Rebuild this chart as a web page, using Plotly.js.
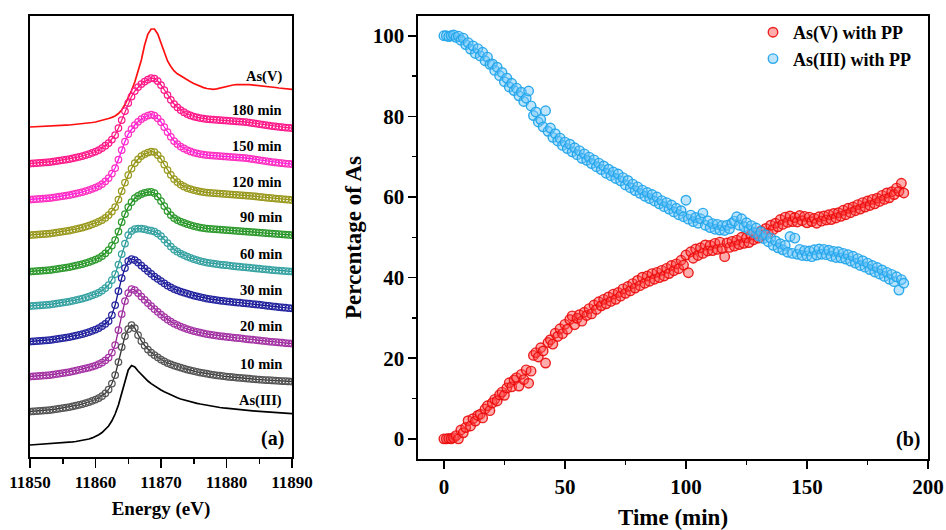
<!DOCTYPE html>
<html>
<head>
<meta charset="utf-8">
<script src="https://cdn.plot.ly/plotly-3.0.1.min.js"></script>
<style>html,body{margin:0;padding:0;background:#fff;}#chart{width:946px;height:530px;}</style>
</head>
<body>
<div id="chart"></div>
<script>
// ---------- Panel (a): XANES spectra (stacked, arbitrary units) ----------
const energy = [11850,11850.5,11851,11851.5,11852,11852.5,11853,11853.5,11854,11854.5,11855,11855.5,11856,11856.5,11857,11857.5,11858,11858.5,11859,11859.5,11860,11860.5,11861,11861.5,11862,11862.5,11863,11863.5,11864,11864.5,11865,11865.5,11866,11866.5,11867,11867.5,11868,11868.5,11869,11869.5,11870,11870.5,11871,11871.5,11872,11872.5,11873,11873.5,11874,11874.5,11875,11875.5,11876,11876.5,11877,11877.5,11878,11878.5,11879,11879.5,11880,11880.5,11881,11881.5,11882,11882.5,11883,11883.5,11884,11884.5,11885,11885.5,11886,11886.5,11887,11887.5,11888,11888.5,11889,11889.5,11890];

const specAsV = [3.300,3.301,3.302,3.304,3.305,3.307,3.308,3.309,3.310,3.313,3.315,3.318,3.320,3.323,3.325,3.328,3.330,3.335,3.340,3.345,3.350,3.357,3.365,3.374,3.385,3.396,3.410,3.435,3.470,3.525,3.590,3.665,3.750,3.855,3.970,4.120,4.230,4.280,4.280,4.230,4.140,4.045,3.960,3.905,3.860,3.832,3.810,3.790,3.770,3.752,3.735,3.720,3.705,3.694,3.685,3.680,3.677,3.682,3.690,3.700,3.710,3.715,3.720,3.723,3.725,3.725,3.725,3.723,3.720,3.718,3.715,3.713,3.710,3.705,3.700,3.695,3.690,3.686,3.683,3.680,3.677];
const spec180 = [2.935,2.937,2.940,2.942,2.945,2.947,2.950,2.955,2.960,2.965,2.970,2.975,2.980,2.987,2.995,3.002,3.010,3.020,3.030,3.042,3.055,3.070,3.090,3.113,3.140,3.175,3.220,3.290,3.370,3.460,3.540,3.605,3.660,3.700,3.730,3.755,3.775,3.790,3.785,3.760,3.720,3.670,3.620,3.572,3.530,3.497,3.470,3.448,3.430,3.416,3.405,3.397,3.390,3.385,3.380,3.377,3.375,3.372,3.370,3.367,3.365,3.362,3.360,3.357,3.355,3.352,3.350,3.345,3.340,3.335,3.330,3.325,3.320,3.315,3.310,3.306,3.302,3.298,3.295,3.292,3.290];
const spec150 = [2.575,2.577,2.580,2.582,2.585,2.587,2.590,2.595,2.600,2.605,2.610,2.615,2.620,2.627,2.635,2.642,2.650,2.660,2.670,2.682,2.695,2.710,2.730,2.757,2.790,2.835,2.890,2.975,3.070,3.155,3.230,3.280,3.320,3.352,3.380,3.400,3.415,3.425,3.415,3.387,3.350,3.300,3.250,3.202,3.160,3.130,3.105,3.086,3.070,3.056,3.045,3.037,3.030,3.025,3.020,3.017,3.015,3.012,3.010,3.007,3.005,3.002,3.000,2.997,2.995,2.992,2.990,2.985,2.980,2.975,2.970,2.965,2.960,2.955,2.950,2.946,2.942,2.938,2.935,2.932,2.930];
const spec120 = [2.220,2.222,2.225,2.227,2.230,2.232,2.235,2.240,2.245,2.250,2.255,2.260,2.265,2.272,2.280,2.287,2.295,2.305,2.315,2.327,2.340,2.355,2.370,2.392,2.420,2.455,2.500,2.575,2.660,2.745,2.820,2.885,2.940,2.977,3.010,3.030,3.045,3.055,3.050,3.020,2.980,2.925,2.870,2.822,2.780,2.750,2.725,2.706,2.690,2.680,2.670,2.662,2.655,2.650,2.645,2.642,2.640,2.637,2.635,2.632,2.630,2.627,2.625,2.622,2.620,2.617,2.615,2.612,2.610,2.606,2.602,2.598,2.595,2.591,2.588,2.585,2.582,2.579,2.576,2.573,2.570];
const spec90 = [1.855,1.857,1.860,1.862,1.865,1.867,1.870,1.875,1.880,1.885,1.890,1.895,1.900,1.907,1.915,1.922,1.930,1.940,1.950,1.962,1.975,1.990,2.010,2.037,2.070,2.115,2.170,2.255,2.350,2.430,2.500,2.550,2.590,2.612,2.630,2.642,2.650,2.652,2.640,2.605,2.560,2.510,2.460,2.420,2.390,2.370,2.355,2.342,2.330,2.320,2.310,2.302,2.295,2.290,2.285,2.282,2.280,2.277,2.275,2.272,2.270,2.267,2.265,2.262,2.260,2.257,2.255,2.252,2.250,2.247,2.245,2.242,2.240,2.237,2.235,2.232,2.230,2.227,2.225,2.222,2.220];
const spec60 = [1.510,1.512,1.515,1.517,1.520,1.522,1.525,1.530,1.535,1.540,1.545,1.550,1.555,1.562,1.570,1.577,1.585,1.595,1.605,1.617,1.630,1.645,1.665,1.690,1.720,1.770,1.830,1.925,2.030,2.135,2.220,2.260,2.280,2.285,2.285,2.278,2.270,2.263,2.255,2.235,2.210,2.175,2.140,2.105,2.075,2.053,2.035,2.020,2.005,1.992,1.980,1.970,1.960,1.952,1.945,1.940,1.935,1.930,1.925,1.921,1.918,1.914,1.910,1.906,1.903,1.900,1.897,1.893,1.890,1.886,1.883,1.880,1.877,1.873,1.870,1.867,1.865,1.862,1.860,1.857,1.855];
const spec30 = [1.155,1.157,1.160,1.162,1.165,1.167,1.170,1.175,1.180,1.185,1.190,1.195,1.200,1.207,1.215,1.222,1.230,1.240,1.250,1.262,1.275,1.290,1.310,1.332,1.360,1.420,1.520,1.660,1.790,1.890,1.960,1.980,1.970,1.945,1.915,1.887,1.860,1.832,1.805,1.782,1.760,1.737,1.715,1.697,1.680,1.667,1.655,1.645,1.635,1.625,1.615,1.607,1.600,1.592,1.585,1.580,1.575,1.570,1.565,1.561,1.557,1.553,1.550,1.546,1.543,1.540,1.537,1.533,1.530,1.526,1.523,1.519,1.515,1.511,1.507,1.503,1.500,1.496,1.493,1.490,1.487];
const spec20 = [0.805,0.807,0.810,0.812,0.815,0.817,0.820,0.825,0.830,0.835,0.840,0.845,0.850,0.857,0.865,0.872,0.880,0.887,0.895,0.905,0.915,0.928,0.945,0.967,0.995,1.045,1.120,1.270,1.430,1.560,1.640,1.680,1.670,1.640,1.605,1.572,1.540,1.510,1.480,1.452,1.425,1.400,1.375,1.354,1.335,1.320,1.305,1.292,1.280,1.270,1.260,1.252,1.245,1.237,1.230,1.225,1.220,1.215,1.210,1.206,1.202,1.198,1.195,1.191,1.188,1.184,1.180,1.176,1.173,1.170,1.166,1.162,1.159,1.155,1.152,1.149,1.146,1.143,1.140,1.137,1.135];
const spec10 = [0.455,0.457,0.460,0.462,0.465,0.467,0.470,0.475,0.480,0.485,0.490,0.495,0.500,0.507,0.515,0.522,0.530,0.540,0.550,0.562,0.575,0.590,0.610,0.637,0.675,0.735,0.820,0.950,1.100,1.210,1.280,1.320,1.290,1.220,1.160,1.115,1.075,1.045,1.020,0.997,0.975,0.957,0.940,0.927,0.915,0.905,0.895,0.885,0.875,0.867,0.860,0.852,0.845,0.839,0.833,0.827,0.822,0.817,0.813,0.809,0.805,0.801,0.798,0.795,0.792,0.789,0.786,0.783,0.780,0.777,0.775,0.772,0.770,0.768,0.766,0.764,0.762,0.760,0.758,0.756,0.755];
const specAsIII = [0.120,0.122,0.123,0.125,0.127,0.128,0.130,0.132,0.135,0.137,0.140,0.143,0.147,0.151,0.155,0.160,0.165,0.172,0.180,0.191,0.205,0.223,0.245,0.273,0.310,0.362,0.430,0.520,0.630,0.750,0.870,0.915,0.900,0.860,0.825,0.790,0.760,0.734,0.710,0.689,0.670,0.652,0.635,0.620,0.605,0.592,0.580,0.570,0.560,0.552,0.545,0.537,0.530,0.523,0.517,0.511,0.505,0.500,0.495,0.491,0.487,0.483,0.480,0.476,0.473,0.470,0.467,0.464,0.462,0.459,0.457,0.454,0.452,0.449,0.447,0.444,0.442,0.440,0.438,0.435,0.433];

const specLabels = ['As(V)','180 min','150 min','120 min','90 min','60 min','30 min','20 min','10 min','As(III)'];

// ---------- Panel (b): percentage of As vs time ----------
const timeMin = [0,1,2,3,4,5,6,7,8,9,10,11,12,13,14,15,16,17,18,19,20,21,22,23,24,25,26,27,28,29,30,31,32,33,34,35,36,37,38,39,40,41,42,43,44,45,46,47,48,49,50,51,52,53,54,55,56,57,58,59,60,61,62,63,64,65,66,67,68,69,70,71,72,73,74,75,76,77,78,79,80,81,82,83,84,85,86,87,88,89,90,91,92,93,94,95,96,97,98,99,100,101,102,103,104,105,106,107,108,109,110,111,112,113,114,115,116,117,118,119,120,121,122,123,124,125,126,127,128,129,130,131,132,133,134,135,136,137,138,139,140,141,142,143,144,145,146,147,148,149,150,151,152,153,154,155,156,157,158,159,160,161,162,163,164,165,166,167,168,169,170,171,172,173,174,175,176,177,178,179,180,181,182,183,184,185,186,187,188,189,190];

const pctAsV = [0,0,0.1,0,0.3,0.8,0,2.2,1.5,2.8,
4.5,3.2,5.0,4.4,5.8,6.1,5.2,7.4,8.2,7.0,
8.9,9.8,9.4,10.9,11.6,10.8,12.6,13.9,12.9,14.6,
15.2,13.1,16.0,14.7,17.1,13.8,16.8,20.7,21.4,20.3,
22.6,21.8,18.8,23.9,24.6,23.5,26.2,25.4,27.3,26.1,
28.4,27.2,29.6,30.5,28.3,29.9,30.8,29.2,31.4,30.6,
32.3,31.0,33.2,32.1,34.0,33.0,34.6,33.5,35.2,34.1,
35.9,34.6,36.3,35.4,37.2,36.1,37.8,36.7,38.5,37.4,
39.3,38.0,40.1,38.6,40.4,39.1,41.0,39.6,41.3,40.0,
41.8,40.4,42.3,41.0,43.0,41.7,43.4,42.2,44.3,43.1,
45.6,41.2,46.4,44.8,47.1,45.5,47.4,46.0,48.1,46.6,
48.0,46.7,48.5,47.0,48.8,47.2,45.2,48.6,47.5,49.0,
47.8,49.3,48.2,50.0,48.5,49.9,48.7,50.6,49.4,51.0,
49.8,51.6,50.5,52.2,51.0,53.0,51.9,53.5,52.6,54.4,
53.2,55.0,53.7,55.3,53.9,54.9,53.8,55.4,54.1,55.2,
53.6,55.0,53.9,54.7,53.5,55.1,54.0,55.3,54.3,55.6,
54.4,55.9,54.8,56.1,55.2,56.7,55.6,57.2,56.1,57.5,
56.6,58.1,57.0,58.6,57.5,59.0,57.9,59.4,58.3,59.7,
58.9,60.4,59.4,61.0,59.8,61.3,60.6,62.2,61.4,63.4,
61.0];

const pctAsIII = [100,100,99.8,100,100.2,99.6,99.9,98.9,99.4,97.8,
98.3,96.7,97.5,95.6,96.8,95.0,95.9,93.8,94.7,92.9,
93.0,91.4,92.2,90.1,90.9,88.6,89.5,87.3,88.2,86.4,
87.0,85.1,86.0,83.7,84.5,86.3,82.6,80.2,81.1,78.6,
79.2,77.4,81.4,76.3,77.1,74.8,75.7,73.9,74.6,72.8,
73.6,72.0,73.1,71.2,72.2,70.5,71.5,69.6,70.7,69.1,
69.9,68.3,69.2,67.5,68.4,66.8,67.7,65.9,66.9,65.3,
66.2,64.6,65.7,64.0,64.8,63.0,64.1,62.3,63.2,61.6,
62.5,60.9,61.7,60.2,61.1,59.6,60.6,59.0,60.0,58.3,
59.1,57.6,58.6,57.0,58.0,56.3,57.2,55.6,56.6,55.1,
59.2,54.5,55.5,53.9,54.9,53.5,54.6,56.0,53.0,54.1,
52.4,53.4,52.0,53.2,51.8,52.9,51.7,53.0,52.1,53.5,
54.0,55.1,53.0,54.6,52.6,53.6,51.9,52.9,51.2,52.3,
50.4,51.3,49.7,50.6,48.9,49.8,48.0,49.1,47.4,48.4,
46.9,48.0,46.3,50.2,46.0,49.8,45.8,47.0,45.5,46.7,
45.4,46.6,45.2,46.9,45.6,47.1,45.8,47.0,45.7,46.8,
45.3,46.5,45.0,46.4,44.9,46.0,44.6,45.7,44.1,45.3,
43.6,44.7,43.0,44.2,42.6,43.6,42.0,43.0,41.4,42.5,
40.9,41.9,40.3,41.3,39.6,40.8,39.0,40.2,36.9,39.5,
38.6];

const seriesNames = ['As(V) with PP','As(III) with PP'];

// ---------- build figure ----------
const FONT = 'Liberation Serif';
const W = 946, H = 530;
const px = v => v / W;            // paper x from pixel
const py = v => 1 - v / H;        // paper y from pixel

const specSeries = [specAsV, spec180, spec150, spec120, spec90, spec60, spec30, spec20, spec10, specAsIII];
const specStyle = [
  {line:'#ff1010', marker:null},
  {line:'#ff1f7a', marker:'#ff1a8c'},
  {line:'#ff10ff', marker:'#ff30c0'},
  {line:'#8f8f10', marker:'#9a9a20'},
  {line:'#1f8f1f', marker:'#2e9a2e'},
  {line:'#2a9595', marker:'#38a3a3'},
  {line:'#14148f', marker:'#2525a0'},
  {line:'#952595', marker:'#a535a5'},
  {line:'#333333', marker:'#555555'},
  {line:'#000000', marker:null}
];

const traces = [];
specSeries.forEach((s, i) => {
  const st = specStyle[i];
  const t = {
    x: energy, y: s, xaxis:'x', yaxis:'y', showlegend:false, name: specLabels[i],
    type:'scatter', hoverinfo:'skip',
    mode: st.marker ? 'lines+markers' : 'lines',
    line: {color: st.line, width: st.marker ? 1.3 : 1.7}
  };
  if (st.marker) {
    t.marker = {symbol:'circle-open', size:6.5, color: st.marker, line:{color: st.marker, width:1.25}};
  }
  traces.push(t);
});

traces.push({
  x: timeMin, y: pctAsV, xaxis:'x2', yaxis:'y2', type:'scatter', mode:'markers',
  name: seriesNames[0],
  marker:{symbol:'circle', size:9.5, color:'rgba(255,70,70,0.45)', line:{color:'rgba(235,10,10,0.9)', width:1.4}}
});
traces.push({
  x: timeMin, y: pctAsIII, xaxis:'x2', yaxis:'y2', type:'scatter', mode:'markers',
  name: seriesNames[1],
  marker:{symbol:'circle', size:9.5, color:'rgba(110,198,250,0.45)', line:{color:'rgba(35,165,235,0.95)', width:1.4}}
});

const annotations = specSeries.map((s, i) => ({
  xref:'x', yref:'y', x: energy[energy.length-1], y: s[s.length-1],
  xanchor:'right', yanchor:'middle', xshift:-8,
  yshift: specStyle[i].marker ? 18 : 13,
  showarrow:false, text: specLabels[i],
  font:{family:FONT, size:14.5, color:'#000', weight:'bold'}
}));
annotations.push({xref:'paper', yref:'paper', x:px(272), y:py(438), xanchor:'center', yanchor:'middle',
  showarrow:false, text:'(a)', font:{family:FONT, size:20, color:'#000', weight:'bold'}});
annotations.push({xref:'paper', yref:'paper', x:px(908), y:py(439), xanchor:'center', yanchor:'middle',
  showarrow:false, text:'(b)', font:{family:FONT, size:20, color:'#000', weight:'bold'}});

const axBase = {
  showline:true, mirror:true, linecolor:'#000', linewidth:1.6,
  showgrid:false, zeroline:false, automargin:false,
  ticks:'outside', tickcolor:'#000', tickwidth:1.5
};

const layout = {
  width: W, height: H,
  margin:{l:0, r:0, t:0, b:0},
  paper_bgcolor:'#fff', plot_bgcolor:'#fff',
  font:{family:FONT, color:'#000', weight:'bold'},
  showlegend:true,
  legend:{x:px(753), y:py(14), xanchor:'left', yanchor:'top', bgcolor:'rgba(0,0,0,0)',
    font:{family:FONT, size:18, color:'#000', weight:'bold'}, tracegroupgap:0},
  xaxis: Object.assign({}, axBase, {
    domain:[px(30), px(292)], range:[11850, 11890], anchor:'y',
    tick0:11850, dtick:10, ticklen:9, tickformat:'d',
    minor:{dtick:5, ticklen:5, ticks:'outside', tickcolor:'#000', tickwidth:1.5},
    tickfont:{family:FONT, size:17, color:'#000', weight:'bold'},
    title:{text:'Energy (eV)', standoff:10, font:{family:FONT, size:19, color:'#000', weight:'bold'}}
  }),
  yaxis: Object.assign({}, axBase, {
    domain:[py(457), py(16)], range:[0, 4.41], anchor:'x',
    ticks:'', showticklabels:false
  }),
  xaxis2: Object.assign({}, axBase, {
    domain:[px(418), px(928)], range:[-10.7, 200], anchor:'y2',
    tick0:0, dtick:50, ticklen:8,
    minor:{dtick:25, ticklen:4, ticks:'outside', tickcolor:'#000', tickwidth:1.5},
    tickfont:{family:FONT, size:21, color:'#000', weight:'bold'},
    title:{text:'Time (min)', standoff:11, font:{family:FONT, size:23, color:'#000', weight:'bold'}}
  }),
  yaxis2: Object.assign({}, axBase, {
    domain:[py(459), py(16)], range:[-5, 104.9], anchor:'x2',
    tick0:0, dtick:20, ticklen:8,
    minor:{dtick:10, ticklen:4, ticks:'outside', tickcolor:'#000', tickwidth:1.5},
    tickfont:{family:FONT, size:21, color:'#000', weight:'bold'},
    title:{text:'Percentage of As', standoff:4, font:{family:FONT, size:23, color:'#000', weight:'bold'}}
  }),
  annotations: annotations
};

Plotly.newPlot('chart', traces, layout, {displayModeBar:false, staticPlot:true});
</script>
</body>
</html>
